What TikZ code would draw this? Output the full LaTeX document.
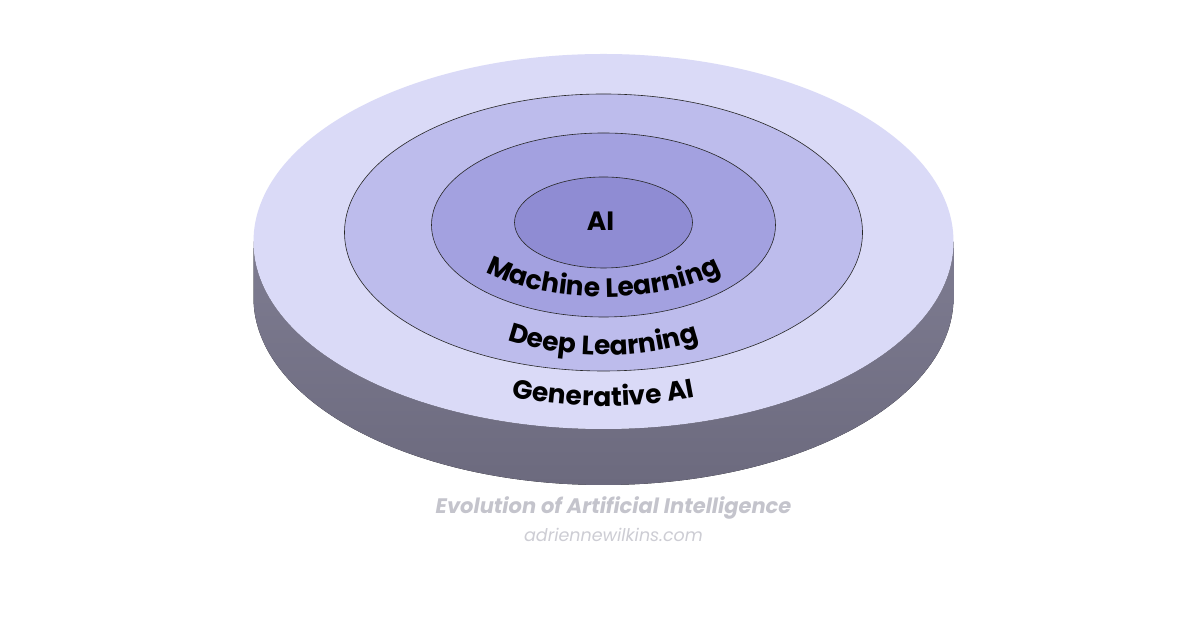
\documentclass[tikz,border=0pt]{standalone}
\usepackage{fontspec}
\setmainfont{Poppins}
\usetikzlibrary{decorations.text}
\definecolor{diskouter}{HTML}{DADAF7}
\definecolor{diskdeep}{HTML}{BDBCEC}
\definecolor{diskml}{HTML}{A3A1E0}
\definecolor{diskai}{HTML}{8F8CD3}
\definecolor{sidetop}{HTML}{7E7C91}
\definecolor{sidebot}{HTML}{6C6A7E}
\definecolor{capgray}{HTML}{C4C4CC}
\newcommand{\lblfont}{\fontsize{26.5}{31}\selectfont\bfseries}

\begin{document}
\begin{tikzpicture}[x=1pt,y=1pt]
\tikzset{
 ring/.style={draw=black!85,line width=0.6pt},
 curvelbl/.style={decorate,decoration={text along path,text align=center,text={|\lblfont|#1}}}
}
\useasboundingbox[fill=white] (0,0) rectangle (1200,628);
% side of the disc
\fill[top color=sidetop,bottom color=sidebot] (253.5,386.5) -- (253.5,330.5)
  arc[start angle=180,end angle=360,x radius=350,y radius=187.5] -- (953.5,386.5)
  arc[start angle=0,end angle=-180,x radius=350,y radius=187.5] -- cycle;
% top face and rings
\fill[diskouter] (603.5,386.5) ellipse[x radius=350,y radius=187.5];
\filldraw[ring,fill=diskdeep] (603.5,395.5) ellipse[x radius=259,y radius=138.5];
\filldraw[ring,fill=diskml] (603.5,403) ellipse[x radius=172,y radius=92];
\filldraw[ring,fill=diskai] (603.5,405.5) ellipse[x radius=89,y radius=45.5];
% labels
\node[font=\lblfont] (ai) at (600.5,407) {AI};
\path[curvelbl=Machine Learning] (603.5,403) ++(195:156 and 72)
  arc[start angle=195,end angle=345,x radius=156,y radius=72];
\path[curvelbl=Deep Learning] (603.5,396) ++(200:200 and 123)
  arc[start angle=200,end angle=340,x radius=200,y radius=123];
\path[curvelbl=Generative AI] (603.5,387) ++(205:285 and 165)
  arc[start angle=205,end angle=335,x radius=285,y radius=165];
% caption
\node[font=\fontsize{21}{25}\selectfont\bfseries\itshape,text=capgray] (title) at (613.5,120) {Evolution of Artificial Intelligence};
\node[font=\fontsize{17.5}{21}\selectfont\itshape,text=capgray!85] (site) at (613.5,93) {adriennewilkins.com};
\end{tikzpicture}
\end{document}
